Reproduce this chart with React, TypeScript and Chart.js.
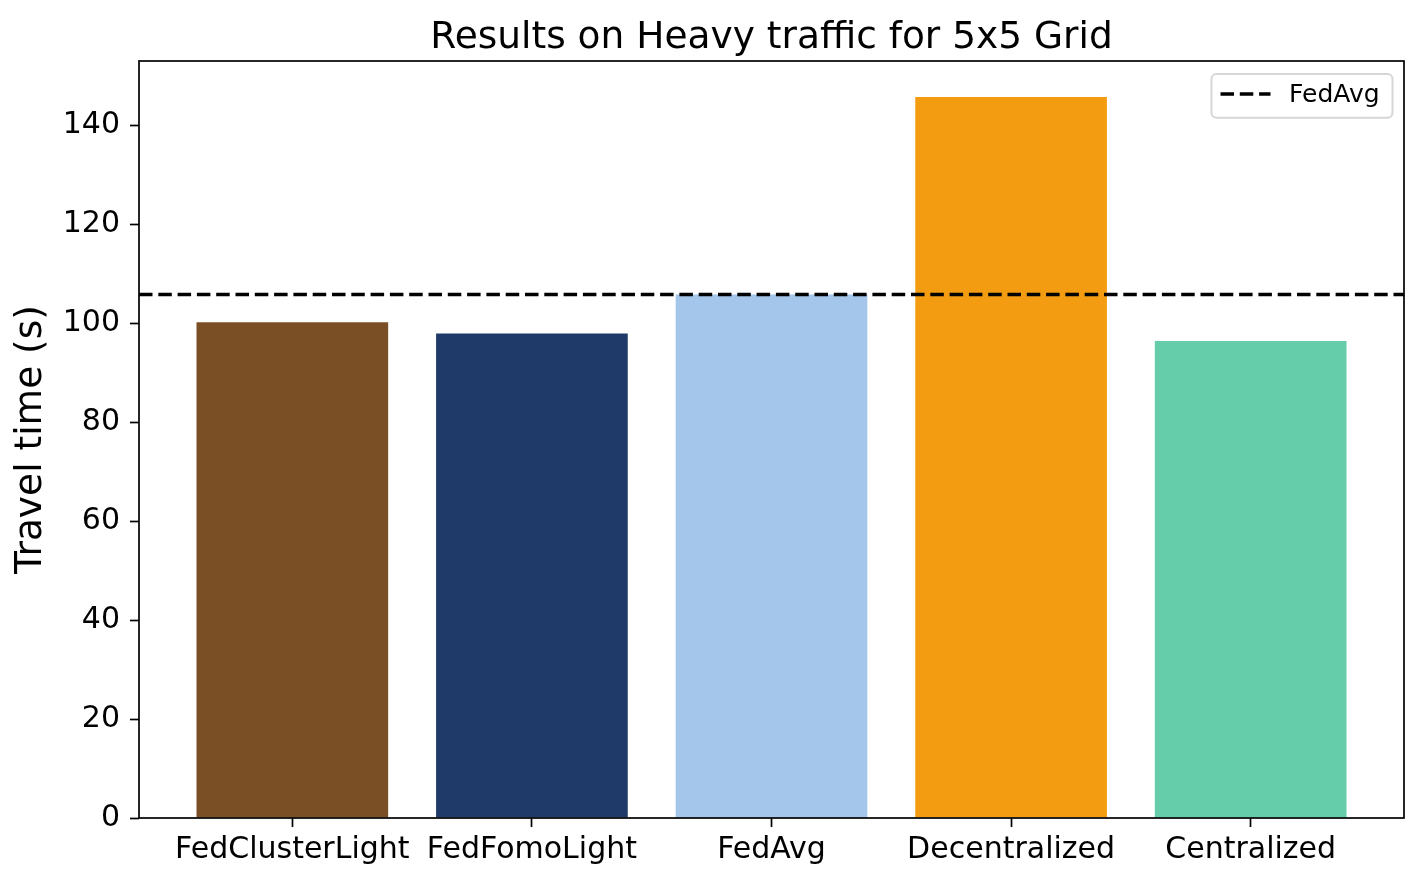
import React, { useEffect, useRef } from 'react';
import { Chart, registerables } from 'chart.js';

Chart.register(...registerables);

const categories = ['FedClusterLight', 'FedFomoLight', 'FedAvg', 'Decentralized', 'Centralized'];
const travelTimes = [100.2, 97.9, 105.8, 145.7, 96.4];
const barColors = ['#7a4f25', '#1f3a68', '#a3c6ea', '#f39c12', '#66cdaa'];
const fedAvgReference = [105.8];
const yTickValues = [0, 20, 40, 60, 80, 100, 120, 140];
const titleText = 'Results on Heavy traffic for 5x5 Grid';
const yAxisTitle = 'Travel time (s)';
const legendLabels = ['FedAvg'];

const FONT = "'DejaVu Sans', sans-serif";
const DASH = [13.5, 5.8];
const LINE_W = 3.3;

const xMin = -0.5 - 0.14;
const xMax = categories.length - 0.5 + 0.14;

const framePlugin = {
  id: 'frame',
  beforeDraw(chart: any) {
    const { ctx } = chart;
    ctx.save();
    ctx.fillStyle = '#ffffff';
    ctx.fillRect(0, 0, chart.width, chart.height);
    ctx.restore();
  },
  afterDatasetsDraw(chart: any) {
    const { ctx, chartArea: a } = chart;
    ctx.save();
    ctx.strokeStyle = '#000000';
    ctx.lineWidth = 1.7;
    ctx.strokeRect(a.left, a.top, a.right - a.left, a.bottom - a.top);
    ctx.restore();
  },
};

const legendPlugin = {
  id: 'insideLegend',
  afterDraw(chart: any) {
    const { ctx, chartArea: a } = chart;
    const right = a.right - 11.5;
    const top = a.top + 13;
    const w = 181;
    const h = 43.7;
    const left = right - w;
    const r = 5;
    ctx.save();
    ctx.beginPath();
    ctx.moveTo(left + r, top);
    ctx.lineTo(right - r, top);
    ctx.arcTo(right, top, right, top + r, r);
    ctx.lineTo(right, top + h - r);
    ctx.arcTo(right, top + h, right - r, top + h, r);
    ctx.lineTo(left + r, top + h);
    ctx.arcTo(left, top + h, left, top + h - r, r);
    ctx.lineTo(left, top + r);
    ctx.arcTo(left, top, left + r, top, r);
    ctx.closePath();
    ctx.fillStyle = 'rgba(255,255,255,0.8)';
    ctx.fill();
    ctx.strokeStyle = 'rgba(204,204,204,0.8)';
    ctx.lineWidth = 2;
    ctx.stroke();

    const ly = top + 20;
    ctx.beginPath();
    ctx.setLineDash(DASH);
    ctx.lineCap = 'butt';
    ctx.strokeStyle = '#000000';
    ctx.lineWidth = LINE_W;
    ctx.moveTo(left + 9, ly);
    ctx.lineTo(left + 59, ly);
    ctx.stroke();
    ctx.setLineDash([]);

    ctx.fillStyle = '#000000';
    ctx.font = `25px ${FONT}`;
    ctx.textAlign = 'left';
    ctx.textBaseline = 'alphabetic';
    ctx.fillText(legendLabels[0], left + 77.6, top + 27.7);
    ctx.restore();
  },
};

export default function App() {
  const ref = useRef<HTMLCanvasElement | null>(null);

  useEffect(() => {
    if (!ref.current) return;
    const yMax = Math.max(...travelTimes) * 1.05;
    const chart = new Chart(ref.current, {
      type: 'bar',
      data: {
        datasets: [
          {
            type: 'line',
            label: legendLabels[0],
            data: [
              { x: xMin, y: fedAvgReference[0] },
              { x: xMax, y: fedAvgReference[0] },
            ],
            borderColor: '#000000',
            borderWidth: LINE_W,
            borderDash: DASH,
            pointRadius: 0,
            fill: false,
            order: 0,
          } as any,
          {
            type: 'bar',
            label: 'Travel time',
            data: categories.map((_, i) => ({ x: i, y: travelTimes[i] })),
            backgroundColor: barColors,
            borderWidth: 0,
            barPercentage: 0.8,
            categoryPercentage: 1,
            order: 1,
          } as any,
        ],
      },
      options: {
        responsive: false,
        animation: false,
        devicePixelRatio: 1,
        layout: { padding: { left: 0, right: 18, top: 0, bottom: 0 } },
        plugins: {
          legend: { display: false },
          tooltip: { enabled: false },
          title: {
            display: true,
            text: titleText,
            fullSize: false,
            color: '#000000',
            font: { family: FONT, size: 37.5, weight: 'normal', lineHeight: 1.2 },
            padding: { top: 15.7, bottom: 0.3 },
          },
        },
        scales: {
          x: {
            type: 'linear',
            min: xMin,
            max: xMax,
            offset: false,
            grid: {
              display: true,
              offset: false,
              drawOnChartArea: false,
              drawTicks: true,
              tickLength: 9,
              tickWidth: 1.7,
              tickColor: '#000000',
            },
            border: { display: false },
            ticks: {
              autoSkip: false,
              maxRotation: 0,
              minRotation: 0,
              padding: 5.5,
              color: '#000000',
              font: { family: FONT, size: 30 },
              callback: (v: any) => categories[Math.round(Number(v))] ?? '',
            },
            afterBuildTicks: (s: any) => {
              s.ticks = categories.map((_, i) => ({ value: i }));
            },
            afterFit: (s: any) => {
              s.height = 64;
            },
          } as any,
          y: {
            type: 'linear',
            min: 0,
            max: yMax,
            grid: {
              display: true,
              drawOnChartArea: false,
              drawTicks: true,
              tickLength: 9,
              tickWidth: 1.7,
              tickColor: '#000000',
            },
            border: { display: false },
            ticks: {
              padding: 10,
              color: '#000000',
              font: { family: FONT, size: 30 },
            },
            afterBuildTicks: (s: any) => {
              s.ticks = yTickValues.map((v) => ({ value: v }));
            },
            afterFit: (s: any) => {
              s.width = 139;
            },
            title: {
              display: true,
              text: yAxisTitle,
              color: '#000000',
              font: { family: FONT, size: 37.5, lineHeight: 1.2 },
              padding: { top: 9, bottom: 0 },
            },
          } as any,
        },
      },
      plugins: [framePlugin, legendPlugin],
    });
    return () => chart.destroy();
  }, []);

  return (
    <div style={{ position: 'fixed', left: 0, top: 0, width: 1422, height: 882, background: '#ffffff' }}>
      <canvas ref={ref} width={1422} height={882} style={{ display: 'block', width: 1422, height: 882 }} />
    </div>
  );
}
